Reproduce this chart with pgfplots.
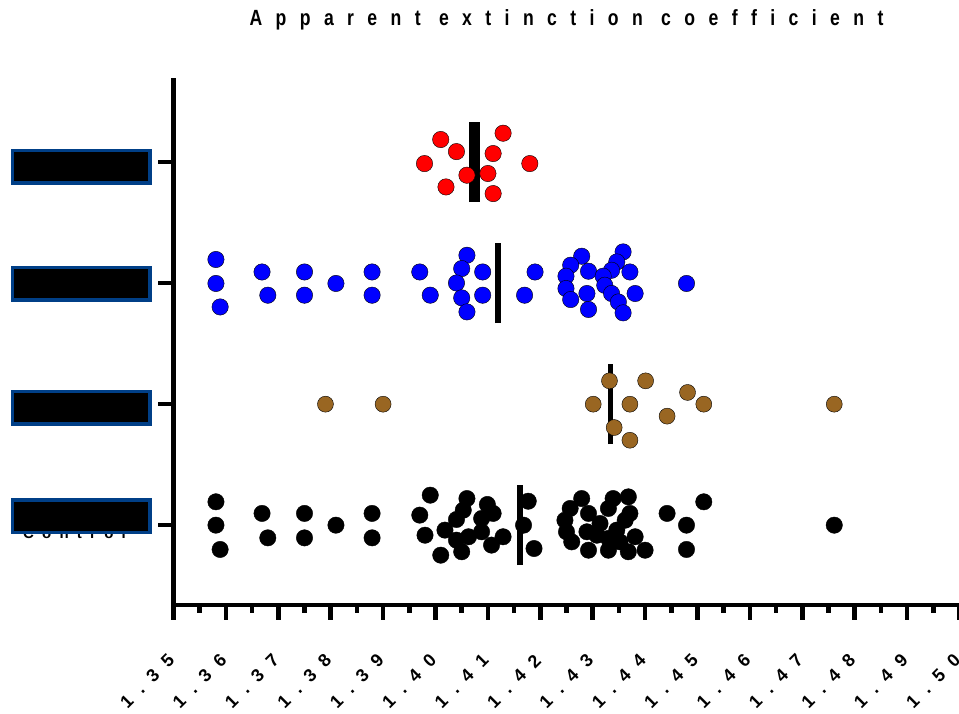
\documentclass[border=0pt]{standalone}
\usepackage{fontspec}
\setmainfont{Liberation Sans}
\newfontfamily\titlefont{Liberation Sans}[LetterSpace=61,FakeStretch=0.8]
\newfontfamily\tickfont{Liberation Sans}[LetterSpace=60]
\newfontfamily\ylabfont{Liberation Sans}[LetterSpace=55]
\usepackage{pgfplots}
\pgfplotsset{compat=1.18}
\definecolor{brownpt}{RGB}{153,102,34}
\definecolor{boxblue}{RGB}{0,63,135}
\begin{document}
\begin{tikzpicture}
\begin{axis}[
  scale only axis, width=786pt, height=525pt,
  xmin=1.35, xmax=1.50, ymin=-0.66, ymax=3.68,
  axis x line*=bottom, axis y line*=left,
  axis line style={line width=4.5pt, -, line cap=rect},
  tick align=outside,
  xtick={1.35,1.36,1.37,1.38,1.39,1.40,1.41,1.42,1.43,1.44,1.45,1.46,1.47,1.48,1.49,1.50},
  xticklabels={1.35,1.36,1.37,1.38,1.39,1.40,1.41,1.42,1.43,1.44,1.45,1.46,1.47,1.48,1.49,1.50},
  minor x tick num=1,
  major tick length=15pt, minor tick length=8pt,
  major tick style={line width=4.5pt, black},
  minor tick style={line width=4.5pt, black},
  xticklabel style={font=\tickfont\bfseries\fontsize{18}{20}\selectfont, rotate=45, anchor=east},
  xticklabel shift=35pt,
  ytick={0,1,2,3},
  yticklabels={Control,{},{},{}},
  yticklabel style={font=\ylabfont\bfseries\fontsize{15}{18}\selectfont, anchor=base, xshift=-84pt, yshift=-13pt},
  title={\bfseries Apparent extinction coefficient},
  title style={font=\titlefont\fontsize{22}{24}\selectfont, anchor=base, yshift=48pt},
  clip=false,
]
% medians
\addplot[line width=11pt, black] coordinates {(1.4074,2.67) (1.4074,3.33)};
\addplot[line width=5.5pt, black] coordinates {(1.4119,1.67) (1.4119,2.33)};
\addplot[line width=5.5pt, black] coordinates {(1.4334,0.67) (1.4334,1.33)};
\addplot[line width=5.5pt, black] coordinates {(1.4161,-0.33) (1.4161,0.33)};
% red
\addplot[only marks, mark=*, mark size=8.2pt, mark options={draw=none, fill=red}] coordinates {
(1.4010,3.188) (1.4129,3.240) (1.4040,3.088) (1.4110,3.072) (1.3979,2.989)
(1.4180,2.989) (1.4060,2.893) (1.4100,2.907) (1.4020,2.796) (1.4110,2.741)};
% blue
\addplot[only marks, mark=*, mark size=8.2pt, mark options={draw=none, fill=blue}] coordinates {
(1.3581,2.196) (1.3581,1.998) (1.3589,1.804) (1.3669,2.093) (1.3680,1.901)
(1.3750,2.093) (1.3750,1.901) (1.3810,1.998) (1.3879,2.093) (1.3879,1.901)
(1.3970,2.093) (1.3990,1.901) (1.4060,2.231) (1.4050,2.121) (1.4040,2.002)
(1.4050,1.879) (1.4060,1.763) (1.4090,2.093) (1.4090,1.901) (1.4190,2.093)
(1.4170,1.901)
(1.4279,2.223) (1.4258,2.149) (1.4249,2.058) (1.4249,1.956) (1.4258,1.865)
(1.4292,2.099) (1.4289,1.915) (1.4292,1.783) (1.4358,2.259) (1.4346,2.176)
(1.4371,2.093) (1.4336,2.107) (1.4320,2.058) (1.4323,1.983) (1.4336,1.915)
(1.4349,1.845) (1.4358,1.755) (1.4381,1.915) (1.4479,1.998)};
% brown
\addplot[only marks, mark=*, mark size=8pt, mark options={draw=none, fill=brownpt}] coordinates {
(1.3790,1.0) (1.3900,1.0) (1.4301,1.0) (1.4332,1.193) (1.4401,1.193)
(1.4371,1.0) (1.4341,0.807) (1.4371,0.702) (1.4442,0.901) (1.4481,1.097)
(1.4512,1.0) (1.4761,1.0)};
% black
\addplot[only marks, mark=*, mark size=8.2pt, mark options={draw=none, fill=black}] coordinates {
(1.3581,0.193) (1.3581,0.0) (1.3589,-0.201) (1.3669,0.097) (1.3680,-0.105)
(1.3750,0.097) (1.3750,-0.105) (1.3810,0.0) (1.3879,0.097) (1.3879,-0.105)
(1.3970,0.083) (1.3990,0.248) (1.3980,-0.083) (1.4010,-0.248)
(1.4060,0.220) (1.4053,0.124) (1.4040,0.047) (1.4018,-0.041) (1.4040,-0.124)
(1.4063,-0.096) (1.4050,-0.220) (1.4099,0.171) (1.4110,0.097) (1.4088,0.055)
(1.4088,-0.055) (1.4107,-0.165) (1.4129,-0.096)
(1.4177,0.198) (1.4168,0.0) (1.4188,-0.193)
(1.4279,0.220) (1.4257,0.138) (1.4247,0.041) (1.4250,-0.055) (1.4260,-0.138)
(1.4292,0.097) (1.4292,-0.207) (1.4289,-0.055) (1.4339,0.220) (1.4368,0.234)
(1.4330,0.138) (1.4371,0.097) (1.4314,0.014) (1.4308,-0.083) (1.4330,-0.110)
(1.4330,-0.207) (1.4346,-0.041) (1.4352,-0.138) (1.4368,-0.220) (1.4381,-0.096)
(1.4400,-0.207) (1.4362,0.041)
(1.4442,0.097) (1.4479,0.0) (1.4479,-0.201) (1.4512,0.193) (1.4761,0.0)};
\coordinate (t0) at (axis cs:1.35,0);
\coordinate (t1) at (axis cs:1.35,1);
\coordinate (t2) at (axis cs:1.35,2);
\coordinate (t3) at (axis cs:1.35,3);
\end{axis}
\foreach \c/\dy in {t0/9,t1/-3.6,t2/-0.5,t3/-4.5}
  \node[fill=black, draw=boxblue, line width=3.5pt, minimum width=137.5pt,
        minimum height=32.5pt, inner sep=0pt, xshift=-92pt, yshift=\dy pt] at (\c) {};
\pgfresetboundingbox
\path (-173.5pt,-109pt) rectangle (785.5pt,605pt);
\end{tikzpicture}
\end{document}
